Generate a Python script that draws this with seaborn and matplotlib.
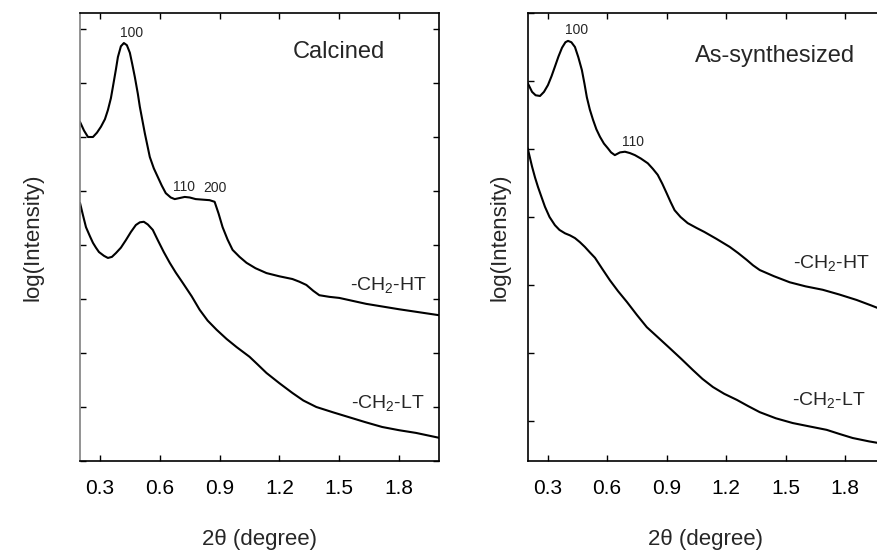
import numpy as np
import pandas as pd
import matplotlib
matplotlib.use("Agg")
import matplotlib.pyplot as plt
import seaborn as sns

# ---- data ----
# Calcined panel
cal_ht_x = [0.20, 0.22, 0.24, 0.265, 0.285, 0.305, 0.325, 0.34, 0.355, 0.365, 0.38, 0.39, 0.405,
            0.42, 0.435, 0.45, 0.462, 0.475, 0.49, 0.50, 0.525, 0.55, 0.57, 0.59, 0.61, 0.63,
            0.655, 0.675, 0.70, 0.725, 0.75, 0.78, 0.85, 0.875, 0.895, 0.915, 0.94, 0.965,
            1.00, 1.035, 1.08, 1.135, 1.20, 1.265, 1.30, 1.335, 1.37, 1.40, 1.45, 1.50,
            1.635, 1.80, 2.00]
cal_ht_y = [6.28, 6.12, 6.00, 6.00, 6.08, 6.19, 6.33, 6.50, 6.72, 6.93, 7.25, 7.48, 7.68,
            7.74, 7.70, 7.56, 7.35, 7.11, 6.80, 6.56, 6.07, 5.63, 5.42, 5.26, 5.10, 4.96,
            4.88, 4.85, 4.87, 4.89, 4.88, 4.85, 4.83, 4.80, 4.58, 4.33, 4.10, 3.91,
            3.78, 3.67, 3.57, 3.48, 3.42, 3.37, 3.32, 3.26, 3.15, 3.07, 3.04, 3.02,
            2.91, 2.81, 2.70]
cal_lt_x = [0.20, 0.215, 0.23, 0.25, 0.265, 0.28, 0.295, 0.32, 0.34, 0.36, 0.38, 0.405, 0.43,
            0.455, 0.48, 0.50, 0.52, 0.54, 0.565, 0.59, 0.62, 0.65, 0.68, 0.715, 0.76, 0.80,
            0.84, 0.885, 0.935, 0.985, 1.05, 1.09, 1.135, 1.20, 1.265, 1.32, 1.385, 1.47,
            1.55, 1.63, 1.715, 1.80, 1.885, 2.00]
cal_lt_y = [4.78, 4.55, 4.33, 4.16, 4.04, 3.95, 3.87, 3.80, 3.76, 3.78, 3.85, 3.95, 4.09,
            4.24, 4.37, 4.42, 4.43, 4.38, 4.28, 4.09, 3.87, 3.67, 3.49, 3.30, 3.05, 2.80,
            2.60, 2.43, 2.26, 2.11, 1.93, 1.79, 1.63, 1.44, 1.26, 1.12, 1.00, 0.90,
            0.81, 0.72, 0.63, 0.57, 0.52, 0.43]

# As-synthesized panel
syn_ht_x = [0.20, 0.222, 0.24, 0.262, 0.282, 0.302, 0.32, 0.337, 0.355, 0.373, 0.39, 0.403,
            0.42, 0.438, 0.455, 0.473, 0.486, 0.498, 0.513, 0.529, 0.546, 0.564, 0.584, 0.604,
            0.62, 0.639, 0.665, 0.69, 0.715, 0.74, 0.77, 0.805, 0.83, 0.855, 0.878, 0.90,
            0.92, 0.94, 0.97, 1.006, 1.05, 1.09, 1.15, 1.218, 1.26, 1.303, 1.335, 1.369,
            1.44, 1.52, 1.60, 1.686, 1.77, 1.857, 1.93, 2.00]
syn_ht_y = [4.97, 4.84, 4.79, 4.78, 4.84, 4.94, 5.07, 5.21, 5.36, 5.49, 5.57, 5.59,
            5.57, 5.50, 5.35, 5.16, 4.96, 4.76, 4.58, 4.43, 4.29, 4.18, 4.08, 4.01,
            3.95, 3.91, 3.95, 3.96, 3.94, 3.91, 3.86, 3.79, 3.71, 3.62, 3.49, 3.35,
            3.22, 3.10, 3.00, 2.91, 2.84, 2.78, 2.68, 2.56, 2.47, 2.37, 2.29, 2.22,
            2.13, 2.04, 1.98, 1.93, 1.86, 1.78, 1.70, 1.62]
syn_lt_x = [0.20, 0.222, 0.237, 0.252, 0.27, 0.287, 0.31, 0.337, 0.36, 0.388, 0.413, 0.438,
            0.463, 0.488, 0.513, 0.539, 0.575, 0.614, 0.655, 0.70, 0.75, 0.80, 0.86, 0.916,
            0.975, 1.032, 1.08, 1.133, 1.19, 1.254, 1.31, 1.369, 1.45, 1.535, 1.62, 1.706,
            1.77, 1.837, 1.92, 2.00]
syn_lt_y = [4.01, 3.74, 3.58, 3.44, 3.29, 3.15, 3.00, 2.88, 2.81, 2.76, 2.73, 2.69,
            2.63, 2.56, 2.48, 2.40, 2.24, 2.07, 1.91, 1.75, 1.56, 1.38, 1.22, 1.07,
            0.91, 0.75, 0.62, 0.50, 0.40, 0.31, 0.22, 0.13, 0.04, -0.03, -0.08, -0.13,
            -0.19, -0.25, -0.30, -0.34]

x_ticks = [0.3, 0.6, 0.9, 1.2, 1.5, 1.8]
x_tick_labels = ["0.3", "0.6", "0.9", "1.2", "1.5", "1.8"]

sns.set_style("ticks")
plt.rcParams["font.family"] = ["Liberation Sans", "DejaVu Sans"]
plt.rcParams["mathtext.default"] = "regular"

fig = plt.figure(figsize=(8.77, 5.52), dpi=100)
W, H = 877, 552
axL = fig.add_axes([80 / W, (H - 461) / H, (439 - 80) / W, 448 / H])
axR = fig.add_axes([527.7 / W, (H - 461) / H, (885 - 527.7) / W, 448 / H])

lw = 1.5
sns.lineplot(x=cal_ht_x, y=cal_ht_y, ax=axL, color="black", lw=lw, sort=False)
sns.lineplot(x=cal_lt_x, y=cal_lt_y, ax=axL, color="black", lw=lw, sort=False)
sns.lineplot(x=syn_ht_x, y=syn_ht_y, ax=axR, color="black", lw=lw, sort=False)
sns.lineplot(x=syn_lt_x, y=syn_lt_y, ax=axR, color="black", lw=lw, sort=False)

axL.set_ylim(0, 448 / 54)
axL.set_yticks(range(0, 9))
axR.set_ylim(6 - 448 / 68, 6)
axR.set_yticks(range(0, 7))

for ax in (axL, axR):
    ax.set_xlim(0.2, 2.0)
    ax.set_xticks(x_ticks)
    ax.set_xticklabels(x_tick_labels)
    ax.set_yticklabels([])
    ax.tick_params(direction="in", length=4, width=1, top=True, right=True,
                   labelsize=15, pad=13, colors="black")
    for s in ax.spines.values():
        s.set_visible(True)
        s.set_linewidth(1.2)
        s.set_color("black")
    ax.set_xlabel("")
    ax.set_ylabel("")
axL.spines["left"].set_color("#808080")

# annotations
small = 10
axL.text(0.46, 7.93, "100", ha="center", va="center", fontsize=small)
axL.text(0.7225, 5.07, "110", ha="center", va="center", fontsize=small)
axL.text(0.8775, 5.06, "200", ha="center", va="center", fontsize=small)
axL.text(1.4975, 7.57, "Calcined", ha="center", va="center", fontsize=17)
axL.text(1.94, 3.17, "-CH$_2$-HT", ha="right", va="baseline", fontsize=14)
axL.text(1.93, 0.98, "-CH$_2$-LT", ha="right", va="baseline", fontsize=14)

axR.text(0.4456, 5.75, "100", ha="center", va="center", fontsize=small)
axR.text(0.7325, 4.10, "110", ha="center", va="center", fontsize=small)
axR.text(1.447, 5.37, "As-synthesized", ha="center", va="center", fontsize=17)
axR.text(1.9227, 2.25, "-CH$_2$-HT", ha="right", va="baseline", fontsize=14)
axR.text(1.9026, 0.235, "-CH$_2$-LT", ha="right", va="baseline", fontsize=14)

fig.text(33 / W, 1 - 237 / H, "log(Intensity)", rotation=90, ha="center", va="center", fontsize=16)
fig.text(500 / W, 1 - 237 / H, "log(Intensity)", rotation=90, ha="center", va="center", fontsize=16)
fig.text(259.5 / W, 1 - 540 / H, "2θ (degree)", ha="center", va="center", fontsize=16)
fig.text(705.5 / W, 1 - 540 / H, "2θ (degree)", ha="center", va="center", fontsize=16)

fig.savefig("out.png", dpi=100)
